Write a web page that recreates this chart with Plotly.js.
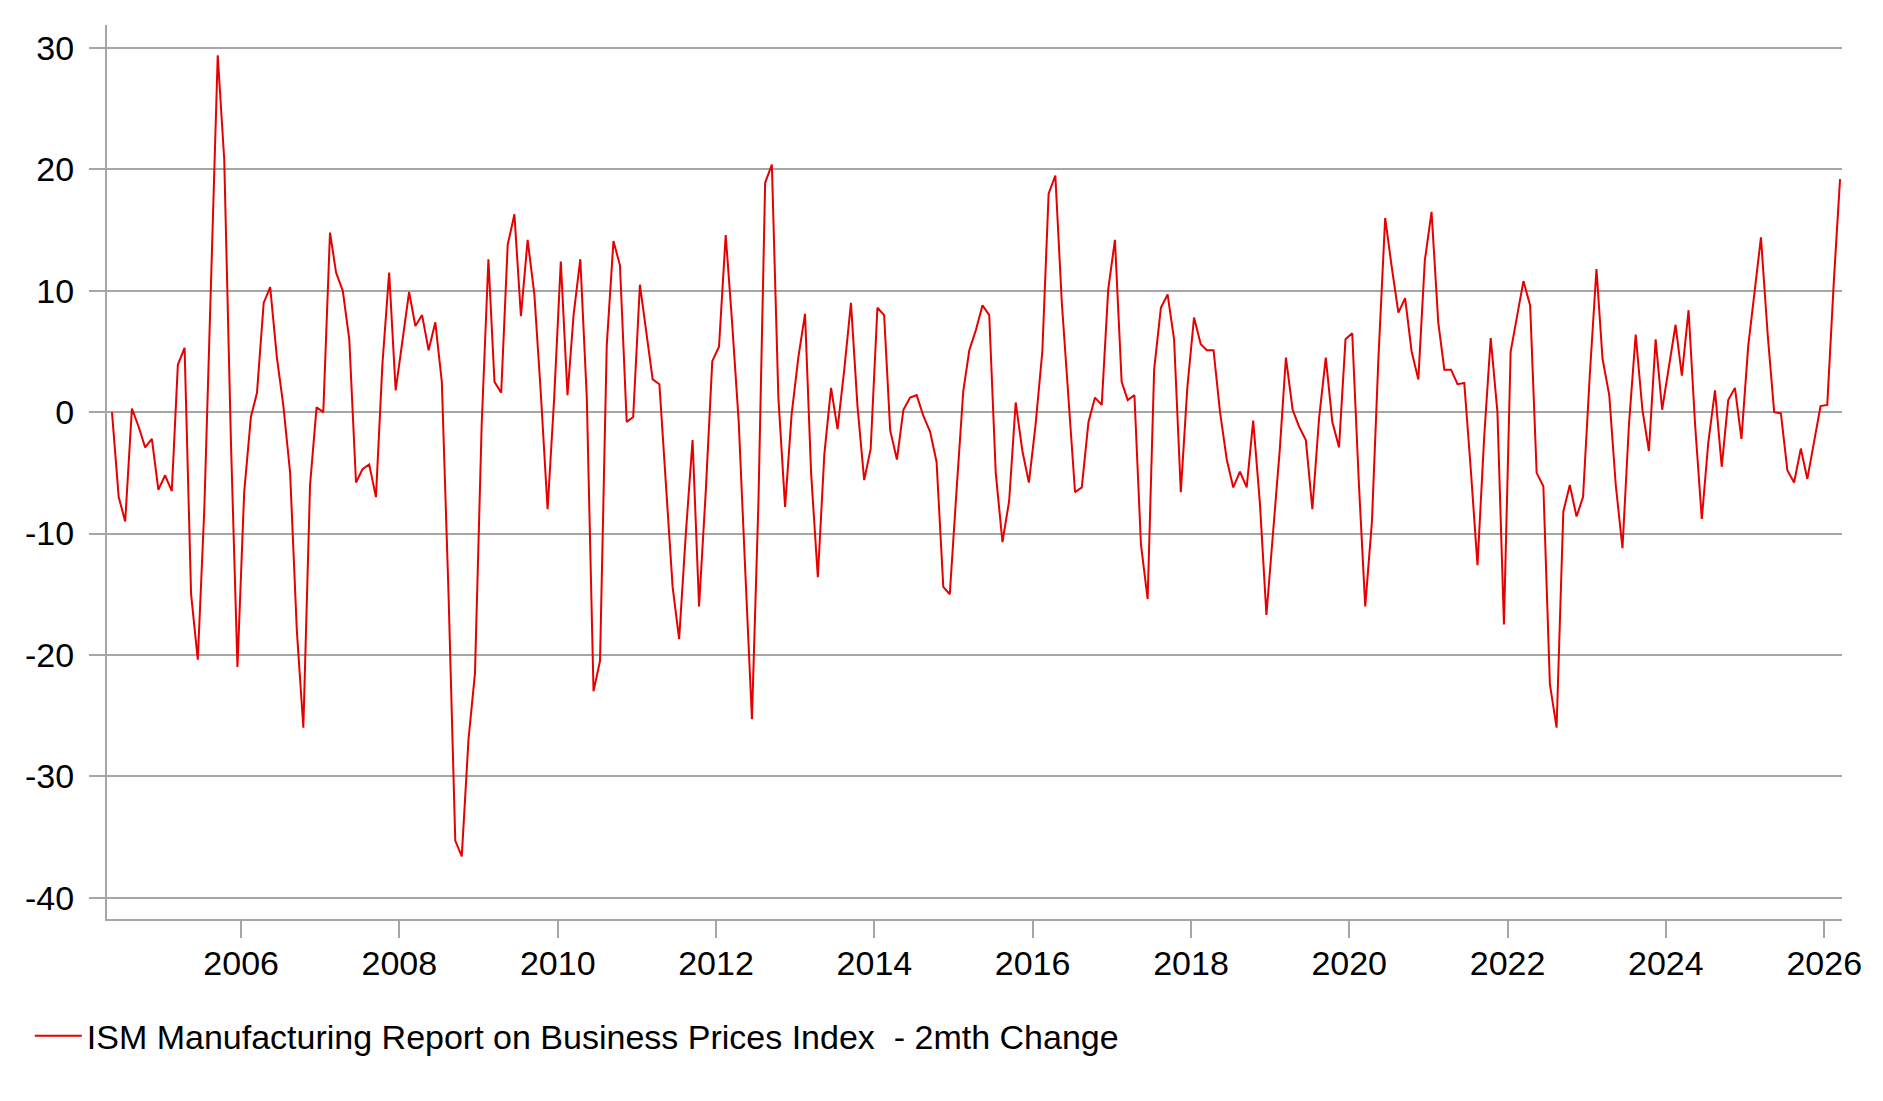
<!DOCTYPE html>
<html>
<head>
<meta charset="utf-8">
<script src="https://cdn.plot.ly/plotly-3.0.1.min.js"></script>
<style>
  html, body { margin: 0; padding: 0; background: #ffffff; }
  #chart { width: 1883px; height: 1101px; }
</style>
</head>
<body>
<div id="chart"></div>
<script>
// Series: ISM Manufacturing Prices Index, 2-month change, monthly from May 2004
const seriesName = "ISM Manufacturing Report on Business Prices Index  - 2mth Change";
const startYear = 2004;
const startMonth = 5;
const values = [
  0, -7, -9, 0.3, -1.2, -2.9, -2.2, -6.4, -5.2, -6.5,
  3.9, 5.3, -15, -20.4, -8, 11, 29.4, 20.8, -2.5, -21,
  -6.6, -0.4, 1.6, 9, 10.3, 4.5, 0.5, -5, -18, -26,
  -6, 0.4, 0, 14.8, 11.5, 10, 6, -5.8, -4.7, -4.3,
  -7, 4, 11.5, 1.8, 6, 9.9, 7.1, 8, 5.1, 7.4,
  2.5, -15, -35.3, -36.6, -27, -21.5, -1, 12.6, 2.5, 1.6,
  13.8, 16.3, 7.9, 14.2, 9.7, 1.5, -8, 1, 12.4, 1.4,
  8, 12.6, 1.2, -23, -20.5, 5.5, 14.1, 12.1, -0.8, -0.4,
  10.5, 6.5, 2.7, 2.3, -6, -14.4, -18.7, -10, -2.3, -16,
  -6.5, 4.2, 5.4, 14.6, 7.5, -0.8, -13, -25.3, -7.4, 18.9,
  20.4, 1.2, -7.8, -0.2, 4.5, 8.1, -5, -13.6, -3.5, 2,
  -1.4, 3.5, 9, 0.5, -5.6, -3, 8.6, 8, -1.5, -3.9,
  0.2, 1.2, 1.4, -0.3, -1.6, -4.1, -14.4, -15, -6.5, 1.7,
  5.1, 6.8, 8.8, 8, -5, -10.7, -7.3, 0.8, -3.2, -5.8,
  -1, 5, 18, 19.5, 9, 1.2, -6.6, -6.2, -0.8, 1.2,
  0.6, 10.1, 14.2, 2.5, 1, 1.4, -10.9, -15.4, 3.5, 8.6,
  9.7, 6, -6.6, 2, 7.8, 5.6, 5.1, 5.1, 0, -3.9,
  -6.2, -4.9, -6.2, -0.7, -7.5, -16.7, -9.7, -3, 4.5, 0.2,
  -1.2, -2.3, -8, -0.5, 4.5, -0.8, -2.9, 6, 6.5, -6,
  -16, -9, 4.5, 16, 12, 8.2, 9.4, 5, 2.7, 12.5,
  16.5, 7.4, 3.5, 3.5, 2.3, 2.4, -4.7, -12.6, -2, 6.1,
  0, -17.5, 5, 8, 10.8, 8.8, -5, -6.1, -22.4, -26,
  -8.2, -6, -8.6, -7, 3, 11.8, 4.4, 1.4, -6, -11.2,
  -1, 6.4, 0.2, -3.2, 6, 0.2, 3.6, 7.2, 3, 8.4,
  -1, -8.8, -2.5, 1.8, -4.5, 1, 2, -2.2, 5.4, 10.4,
  14.4, 6.4, 0, -0.1, -4.8, -5.8, -3, -5.5, -2.5, 0.5,
  0.6, 11, 19.2
];
const yTicks = [30, 20, 10, 0, -10, -20, -30, -40];

function pad(n) { return (n < 10 ? "0" : "") + n; }
const dates = values.map(function (v, i) {
  const k = startMonth - 1 + i;
  const y = startYear + Math.floor(k / 12);
  const m = (k % 12) + 1;
  return y + "-" + pad(m) + "-15";
});

const gridColor = "#a6a6a6";
const fontFamily = "'Liberation Sans', Arial, sans-serif";
const lineColor = "rgb(230,0,0)";

const trace = {
  type: "scatter",
  mode: "lines",
  x: dates,
  y: values,
  name: seriesName,
  line: { color: lineColor, width: 2 },
  hoverinfo: "x+y"
};

const layout = {
  width: 1883,
  height: 1101,
  margin: { l: 107, r: 41, t: 25, b: 182 },
  paper_bgcolor: "#ffffff",
  plot_bgcolor: "#ffffff",
  font: { family: fontFamily, size: 34, color: "#000000" },
  showlegend: true,
  legend: {
    orientation: "h",
    x: -0.0445,
    xanchor: "left",
    y: -0.131,
    yanchor: "middle",
    itemwidth: 47,
    font: { family: fontFamily, size: 34, color: "#000000" },
    bgcolor: "rgba(0,0,0,0)"
  },
  xaxis: {
    type: "date",
    range: ["2004-04-22", "2026-03-24"],
    tick0: "2006-01-01",
    dtick: "M24",
    tickformat: "%Y",
    showgrid: false,
    zeroline: false,
    showline: true,
    linecolor: gridColor,
    linewidth: 2,
    ticks: "outside",
    ticklen: 17,
    tickwidth: 2,
    tickcolor: gridColor,
    ticklabelstandoff: -4,
    tickfont: { family: fontFamily, size: 34, color: "#000000" }
  },
  yaxis: {
    range: [-41.76, 31.9],
    tickmode: "array",
    tickvals: yTicks,
    ticktext: yTicks.map(String),
    showgrid: true,
    gridcolor: gridColor,
    gridwidth: 2,
    zeroline: false,
    showline: true,
    linecolor: gridColor,
    linewidth: 2,
    ticks: "outside",
    ticklen: 16,
    tickwidth: 2,
    tickcolor: gridColor,
    ticklabelstandoff: 8,
    tickfont: { family: fontFamily, size: 34, color: "#000000" }
  }
};

Plotly.newPlot("chart", [trace], layout, { displayModeBar: false, staticPlot: true });
</script>
</body>
</html>
